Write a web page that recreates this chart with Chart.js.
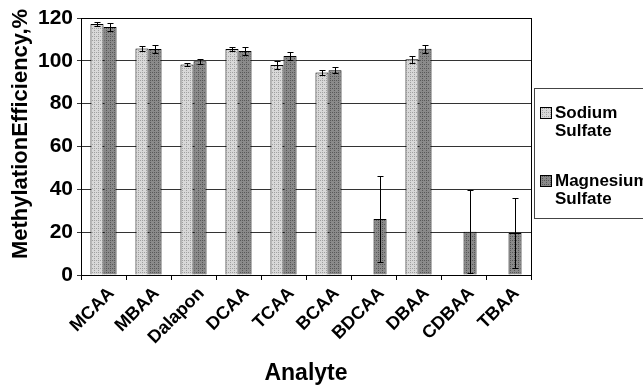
<!DOCTYPE html>
<html>
<head>
<meta charset="utf-8">
<script src="https://cdn.jsdelivr.net/npm/chart.js@4.4.0/dist/chart.umd.min.js"></script>
<style>
  html, body { margin: 0; padding: 0; background: #fff; }
  #wrap { width: 643px; height: 389px; }
</style>
</head>
<body>
<div id="wrap"><canvas id="chart"></canvas></div>
<script>
// values
const analytes = ["MCAA", "MBAA", "Dalapon", "DCAA", "TCAA", "BCAA", "BDCAA", "DBAA", "CDBAA", "TBAA"];
const sodium = [117.2, 105.8, 98.3, 105.5, 98.0, 94.5, 0, 100.7, 0, 0];
const sodiumErr = [1.0, 1.0, 0.7, 0.8, 1.7, 1.3, 0, 1.7, 0, 0];
const magnesium = [115.8, 105.5, 99.8, 104.6, 102.2, 95.6, 26.2, 105.6, 20.2, 19.6];
const magnesiumErr = [2.0, 2.0, 1.2, 2.0, 2.0, 1.3, 20.0, 1.8, 19.4, 16.2];
const seriesNames = [["Sodium", "Sulfate"], ["Magnesium", "Sulfate"]];
const yTicks = [0, 20, 40, 60, 80, 100, 120];
const yTitle = 'MethylationEfficiency,%';

const FONT = "'Liberation Sans', Arial, sans-serif";

// little dotted fills, like the old spreadsheet patterns
function makePattern(base, dots) {
    const c = document.createElement('canvas');
    c.width = 4; c.height = 4;
    const g = c.getContext('2d');
    g.fillStyle = base;
    g.fillRect(0, 0, 4, 4);
    g.fillStyle = dots;
    g.fillRect(0, 0, 1, 1);
    g.fillRect(2, 2, 1, 1);
    g.fillRect(2, 0, 1, 1);
    return g.createPattern(c, 'repeat');
}
const sodiumFill = makePattern('#d8d8d8', '#a0a0a0');
const magnesiumFill = makePattern('#8a8a8a', '#585858');

const errorBars = {
    id: 'errorBars',
    afterDatasetsDraw(chart) {
        const ctx = chart.ctx;
        const y = chart.scales.y;
        const errs = [sodiumErr, magnesiumErr];
        ctx.save();
        ctx.strokeStyle = '#000';
        ctx.lineWidth = 1;
        chart.data.datasets.forEach((ds, i) => {
            const meta = chart.getDatasetMeta(i);
            meta.data.forEach((bar, j) => {
                const e = errs[i][j];
                if (!e) return;
                const v = ds.data[j];
                const x = Math.round(bar.x) + 0.5;
                const top = Math.round(y.getPixelForValue(v + e)) + 0.5;
                const bot = Math.round(y.getPixelForValue(Math.max(v - e, 0))) + 0.5;
                ctx.beginPath();
                ctx.moveTo(x, top); ctx.lineTo(x, bot);
                ctx.moveTo(x - 3, top); ctx.lineTo(x + 3, top);
                ctx.moveTo(x - 3, bot); ctx.lineTo(x + 3, bot);
                ctx.stroke();
            });
        });
        ctx.restore();
    }
};

const frameAndLegend = {
    id: 'frameAndLegend',
    afterDraw(chart) {
        const ctx = chart.ctx;
        const a = chart.chartArea;
        ctx.save();
        ctx.strokeStyle = '#000';
        ctx.lineWidth = 1;
        ctx.strokeRect(Math.round(a.left) + 0.5, Math.round(a.top) + 0.5,
            Math.round(a.right - a.left), Math.round(a.bottom - a.top));

        // y title, sits a little above the middle like the original
        ctx.save();
        ctx.translate(21, 134);
        ctx.rotate(-Math.PI / 2);
        ctx.font = 'bold 22px ' + FONT;
        ctx.textAlign = 'center';
        ctx.textBaseline = 'middle';
        ctx.fillStyle = '#000';
        ctx.fillText(yTitle, 0, 0);
        ctx.restore();

        // legend box
        ctx.strokeStyle = '#444';
        ctx.strokeRect(534.5, 88.5, 130, 130);
        const fills = [sodiumFill, magnesiumFill];
        const rowsY = [113, 181];
        ctx.font = 'bold 17px ' + FONT;
        ctx.textBaseline = 'middle';
        seriesNames.forEach((lines, i) => {
            ctx.fillStyle = fills[i];
            ctx.fillRect(540, rowsY[i] - 6, 12, 12);
            ctx.strokeStyle = '#000';
            ctx.strokeRect(540.5, rowsY[i] - 5.5, 11, 11);
            ctx.fillStyle = '#000';
            lines.forEach((t, k) => ctx.fillText(t, 555, rowsY[i] + k * 18));
        });
        ctx.restore();
    }
};

new Chart(document.getElementById('chart'), {
    type: 'bar',
    data: {
        labels: analytes,
        datasets: [{
            label: 'Sodium Sulfate',
            data: sodium,
            backgroundColor: sodiumFill,
            borderColor: '#000',
            borderWidth: 1,
            categoryPercentage: 0.58,
            barPercentage: 1.0
        }, {
            label: 'Magnesium Sulfate',
            data: magnesium,
            backgroundColor: magnesiumFill,
            borderColor: '#000',
            borderWidth: 1,
            categoryPercentage: 0.58,
            barPercentage: 1.0
        }]
    },
    options: {
        responsive: true,
        maintainAspectRatio: false,
        animation: false,
        layout: { padding: { top: 18, right: 112, left: 0, bottom: 0 } },
        plugins: {
            legend: { display: false },
            tooltip: { enabled: false }
        },
        scales: {
            x: {
                grid: { display: true, drawOnChartArea: false, color: '#000', tickLength: 5 },
                border: { color: '#000' },
                ticks: {
                    color: '#000',
                    font: { family: FONT, size: 18, weight: 'bold' },
                    maxRotation: 45, minRotation: 45,
                    padding: 3,
                    labelOffset: 8
                },
                title: {
                    display: true, text: 'Analyte', color: '#000',
                    font: { family: FONT, size: 23, weight: 'bold' },
                    padding: { top: 0, bottom: 2 }
                },
                afterFit(s) { s.height = 114; }
            },
            y: {
                min: 0, max: 120,
                afterBuildTicks(s) { s.ticks = yTicks.map(v => ({ value: v })); },
                grid: { color: '#333', tickLength: 4 },
                border: { color: '#000' },
                ticks: {
                    color: '#000',
                    font: { family: FONT, size: 21, weight: 'bold' },
                    padding: 4
                },
                afterFit(s) { s.width = 81; }
            }
        }
    },
    plugins: [errorBars, frameAndLegend]
});
</script>
</body>
</html>
